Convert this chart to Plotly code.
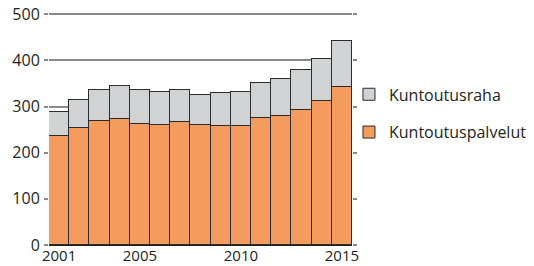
import plotly.graph_objects as go

years = list(range(2001, 2016))
kuntoutuspalvelut = [236, 254, 269, 274, 262, 261, 267, 260, 258, 258, 276, 280, 293, 313, 343]
kuntoutusraha = [52, 61, 67, 71, 73, 70, 68, 65, 72, 74, 75, 80, 86, 91, 99]
x_tickvals = [2001, 2005, 2010, 2015]
y_tickvals = [0, 100, 200, 300, 400, 500]

FONT = "Open Sans"
TXT = "#231f20"
line = dict(color="#2b2b2b", width=1)

fig = go.Figure()
fig.add_trace(go.Bar(x=years, y=kuntoutuspalvelut, name="Kuntoutuspalvelut",
                     marker=dict(color="#f39c5e", line=line), legendgroup="a", legendrank=2))
fig.add_trace(go.Bar(x=years, y=kuntoutusraha, name="Kuntoutusraha",
                     marker=dict(color="#d1d2d4", line=line), legendgroup="b", legendrank=1))
# invisible trace for right-side axis ticks
fig.add_trace(go.Scatter(x=[years[0]], y=[0], yaxis="y2", mode="markers",
                         marker=dict(opacity=0), showlegend=False, hoverinfo="skip"))

fig.update_layout(
    width=534, height=266,
    margin=dict(l=49, r=182, t=12, b=21, autoexpand=False),
    paper_bgcolor="white", plot_bgcolor="white",
    barmode="stack", bargap=0,
    font=dict(family=FONT, size=16, color=TXT),
    showlegend=True,
    legend=dict(x=0.99, y=0.565, xanchor="left", yanchor="middle",
                traceorder="grouped", tracegroupgap=14,
                font=dict(size=16, color=TXT), itemwidth=30,
                bgcolor="rgba(0,0,0,0)"),
    xaxis=dict(range=[2000.5, 2015.5], tickvals=x_tickvals, ticks="",
               showline=True, linecolor="#231f20", linewidth=1, automargin=False,
               showgrid=False, zeroline=False, tickfont=dict(size=15, color=TXT),
               ticklabelstandoff=-3),
    yaxis=dict(range=[0, 505], tickvals=y_tickvals, ticks="outside", ticklen=4,
               tickcolor="#8a8a8a", tickwidth=1.5, showline=False,
               showgrid=True, gridcolor="#8a8a8a", gridwidth=1.5, zeroline=False,
               automargin=False,
               tickfont=dict(size=16, color=TXT), ticklabelstandoff=1),
    yaxis2=dict(range=[0, 505], tickvals=y_tickvals, overlaying="y", side="right",
                ticks="outside", ticklen=4, tickcolor="#8a8a8a", tickwidth=1.5,
                showticklabels=False, showline=False, showgrid=False,
                zeroline=False, automargin=False),
)

fig.write_html("out.html", config={"displayModeBar": False},
               post_script="document.body.style.margin='0';")
